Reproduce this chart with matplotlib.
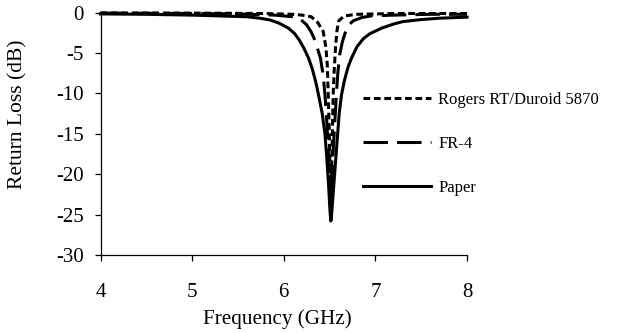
import matplotlib
matplotlib.use("Agg")
import matplotlib.pyplot as plt

# ---- data ----
freq_paper = [4.0, 4.5, 5.0, 5.3, 5.6, 5.75, 5.85, 5.95, 6.05, 6.12, 6.17, 6.22, 6.27,
              6.31, 6.35, 6.38, 6.42, 6.45, 6.47, 6.49, 6.505, 6.514, 6.525, 6.545,
              6.565, 6.585, 6.605, 6.63, 6.66, 6.70, 6.74, 6.80, 6.87, 6.94, 7.07,
              7.2, 7.3, 7.5, 7.7, 8.0]
rl_paper = [-0.15, -0.2, -0.3, -0.4, -0.5, -0.7, -0.9, -1.3, -1.9, -2.6, -3.4, -4.4, -5.6,
            -6.9, -8.6, -10.2, -12.5, -15.0, -18.0, -21.5, -24.6, -25.8, -24.6, -21.5,
            -18.5, -15.5, -12.5, -10.2, -8.5, -6.8, -5.6, -4.2, -3.2, -2.6, -1.9,
            -1.4, -1.1, -0.85, -0.68, -0.55]

freq_fr4 = [4.0, 5.0, 5.5, 5.9, 6.1, 6.17, 6.25, 6.30, 6.34, 6.40, 6.43, 6.45, 6.47,
            6.49, 6.505, 6.514, 6.523, 6.54, 6.56, 6.575, 6.59, 6.61, 6.64, 6.67,
            6.71, 6.76, 6.85, 6.95, 7.2, 7.6, 8.0]
rl_fr4 = [-0.05, -0.1, -0.15, -0.3, -0.5, -0.7, -1.5, -2.4, -3.4, -5.6, -7.7, -10.2, -13.5,
          -18.0, -22.5, -25.6, -22.5, -17.0, -13.0, -10.0, -7.5, -5.2, -3.6, -2.5,
          -1.5, -1.0, -0.6, -0.4, -0.3, -0.2, -0.2]

freq_rogers = [4.0, 5.0, 5.8, 6.1, 6.2, 6.3, 6.37, 6.43, 6.46, 6.475, 6.485, 6.495,
               6.505, 6.514, 6.523, 6.532, 6.54, 6.55, 6.565, 6.58, 6.60, 6.66, 6.8,
               7.2, 8.0]
rl_rogers = [-0.03, -0.05, -0.1, -0.2, -0.3, -0.5, -1.2, -2.3, -4.3, -6.4, -9.8, -14.0,
             -19.5, -25.4, -19.5, -14.0, -10.0, -7.3, -4.3, -2.3, -1.0, -0.4, -0.2,
             -0.1, -0.1]

labels = ["Rogers RT/Duroid 5870", "FR-4", "Paper"]
x_ticks = [4, 5, 6, 7, 8]
y_ticks = [0, -5, -10, -15, -20, -25, -30]

plt.rcParams["font.family"] = ["Liberation Serif", "DejaVu Serif"]

fig = plt.figure(figsize=(6.22, 3.33), dpi=100)
ax = fig.add_axes([100.5 / 622, 1 - 255 / 333, (467 - 100.5) / 622, (255 - 12.7) / 333])

lw = 2.2
ax.plot(freq_rogers, rl_rogers, color="black", lw=lw, dashes=(2.2, 1.2),
        label=labels[0], clip_on=False)
ax.plot(freq_fr4, rl_fr4, color="black", lw=lw, dashes=(8.0, 3.0),
        label=labels[1], clip_on=False)
ax.plot(freq_paper, rl_paper, color="black", lw=lw, linestyle="-",
        label=labels[2], clip_on=False)

ax.set_xlim(4, 8)
ax.set_ylim(-30, 0)
ax.set_xticks(x_ticks)
ax.set_xticklabels([str(v) for v in x_ticks])
ax.set_yticks(y_ticks)
ax.set_yticklabels([str(v) for v in y_ticks])

for s in ["top", "right"]:
    ax.spines[s].set_visible(False)
for s in ["left", "bottom"]:
    ax.spines[s].set_linewidth(0.9)

ax.tick_params(axis="both", direction="out", length=4, width=0.9, labelsize=15)
ax.tick_params(axis="x", pad=16)
ax.tick_params(axis="y", pad=8)

ax.set_xlabel("Frequency (GHz)", fontsize=15.2)
ax.set_ylabel("Return Loss (dB)", fontsize=15.5)
ax.xaxis.set_label_coords(0.483, -0.222)
ax.yaxis.set_label_coords(-0.2, 0.58)

ax.legend(loc="upper left", bbox_to_anchor=(0.716, 0.672), frameon=False,
          fontsize=12, handlelength=4.1, handletextpad=0.42, labelspacing=1.68,
          borderpad=0, borderaxespad=0)

fig.savefig("out.png", dpi=100)
